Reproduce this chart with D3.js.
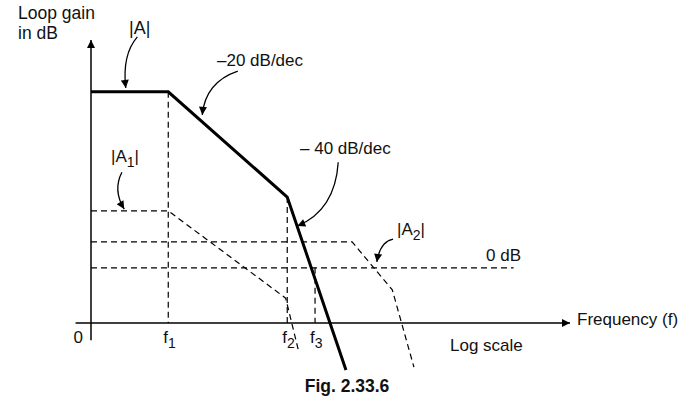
<!DOCTYPE html>
<html>
<head>
<meta charset="utf-8">
<script src="https://cdn.jsdelivr.net/npm/d3@7"></script>
<style>
  body { margin: 0; background: #fff; }
  text { font-family: 'Liberation Sans', Arial, sans-serif; fill: #111; }
</style>
</head>
<body>
<div id="chart"></div>
<script>
// x values in decades of frequency (log scale), y values in dB
const curveA = [[0, 51], [1, 51], [2.54, 20.5], [3.3, -29.6]];
const curveA1 = [[0, 16.5], [1, 16.5], [2.52, -8.8], [2.69, -24.4]];
const curveA2 = [[0, 7.5], [3.38, 7.5], [3.9, -6.4], [4.18, -28.8]];
const zeroDb = [[0, 0], [5.47, 0]];
const freqTicks = [
  { name: 'f', sub: '1', at: 1, top: 51 },
  { name: 'f', sub: '2', at: 2.54, top: 20.5 },
  { name: 'f', sub: '3', at: 2.9, top: 0 },
];
const baseDb = -16;

const width = 695;
const height = 407;

const x = d3.scaleLinear().domain([0, 6.2]).range([91, 570]);
const y = d3.scaleLinear().domain([baseDb, 66]).range([323, 40]);

const svg = d3.select('#chart').append('svg')
  .attr('width', width)
  .attr('height', height);

const defs = svg.append('defs');
['axisHead', 'noteHead'].forEach((id) => {
  defs.append('marker')
    .attr('id', id)
    .attr('viewBox', '0 0 10 10')
    .attr('refX', 10).attr('refY', 5)
    .attr('markerWidth', 12).attr('markerHeight', 8)
    .attr('markerUnits', 'userSpaceOnUse')
    .attr('orient', 'auto')
    .append('path').attr('d', 'M0,0L10,5L0,10Z').attr('fill', '#000');
});

const line = d3.line().x(d => x(d[0])).y(d => y(d[1]));

// axes
svg.append('line')
  .attr('x1', x(-0.2)).attr('y1', y(baseDb))
  .attr('x2', x(6.2)).attr('y2', y(baseDb))
  .attr('stroke', '#000').attr('stroke-width', 1.5)
  .attr('marker-end', 'url(#axisHead)');
svg.append('line')
  .attr('x1', x(0)).attr('y1', y(-21))
  .attr('x2', x(0)).attr('y2', y(66))
  .attr('stroke', '#000').attr('stroke-width', 1.5)
  .attr('marker-end', 'url(#axisHead)');

// dashed guides and curves
const dashed = svg.append('g')
  .attr('fill', 'none')
  .attr('stroke', '#000')
  .attr('stroke-width', 1.2)
  .attr('stroke-dasharray', '6,4');

dashed.append('path').attr('d', line(zeroDb));
dashed.append('path').attr('d', line(curveA1));
dashed.append('path').attr('d', line(curveA2));
dashed.selectAll('.vguide')
  .data(freqTicks)
  .enter().append('line')
  .attr('class', 'vguide')
  .attr('x1', d => x(d.at)).attr('x2', d => x(d.at))
  .attr('y1', d => y(d.top)).attr('y2', y(baseDb));

// loop gain |A|
svg.append('path')
  .attr('d', line(curveA))
  .attr('fill', 'none')
  .attr('stroke', '#000')
  .attr('stroke-width', 3)
  .attr('stroke-linejoin', 'miter');

// tick labels
svg.append('text')
  .attr('x', x(0) - 8).attr('y', y(baseDb) + 20)
  .attr('text-anchor', 'end')
  .style('font-size', '17px')
  .text('0');

const fLabel = svg.selectAll('.fLabel')
  .data(freqTicks)
  .enter().append('text')
  .attr('class', 'fLabel')
  .attr('x', d => x(d.at) - 5)
  .attr('y', y(baseDb) + 20)
  .style('font-size', '17px');
fLabel.append('tspan').text(d => d.name);
fLabel.append('tspan').attr('dy', 5).style('font-size', '14px').text(d => d.sub);

// text helper
function label(px, py, txt, opts = {}) {
  const t = svg.append('text')
    .attr('x', px).attr('y', py)
    .attr('text-anchor', opts.anchor || 'start')
    .style('font-size', opts.size || '17px')
    .style('font-weight', opts.weight || 'normal');
  if (opts.sub) {
    t.append('tspan').text(txt);
    t.append('tspan').attr('dy', 5).style('font-size', '14px').text(opts.sub);
    t.append('tspan').attr('dy', -5).text('|');
  } else {
    t.text(txt);
  }
  return t;
}

label(18, 19, 'Loop gain', { size: '17.5px' });
label(18, 39, 'in dB', { size: '17.5px' });
label(129, 34, '|A|', { size: '18px' });
label(217, 66, '\u201320 dB/dec');
label(300, 154, '\u2013 40 dB/dec');
label(111, 162, '|A', { sub: '1' });
label(397, 235, '|A', { sub: '2' });
label(486, 261, '0 dB');
label(577, 325, 'Frequency (f)');
label(450, 351, 'Log scale');
label(347, 392, 'Fig.  2.33.6', { anchor: 'middle', weight: 'bold', size: '17.5px' });

// curved annotation arrows: [start, control, end] in (decade, dB)
const notes = [
  [[0.6, 66.9], [0.4, 61.7], [0.45, 52.1]],
  [[1.9, 57], [1.48, 53.8], [1.44, 44.3]],
  [[3.2, 30.6], [3.16, 16.7], [2.67, 12.1]],
  [[0.4, 27.7], [0.28, 22.5], [0.43, 17]],
  [[3.91, 8.3], [3.74, 7.5], [3.7, 1.7]],
];
svg.selectAll('.note')
  .data(notes)
  .enter().append('path')
  .attr('class', 'note')
  .attr('d', d => `M${x(d[0][0])},${y(d[0][1])}Q${x(d[1][0])},${y(d[1][1])} ${x(d[2][0])},${y(d[2][1])}`)
  .attr('fill', 'none')
  .attr('stroke', '#000')
  .attr('stroke-width', 1.3)
  .attr('marker-end', 'url(#noteHead)');
</script>
</body>
</html>
